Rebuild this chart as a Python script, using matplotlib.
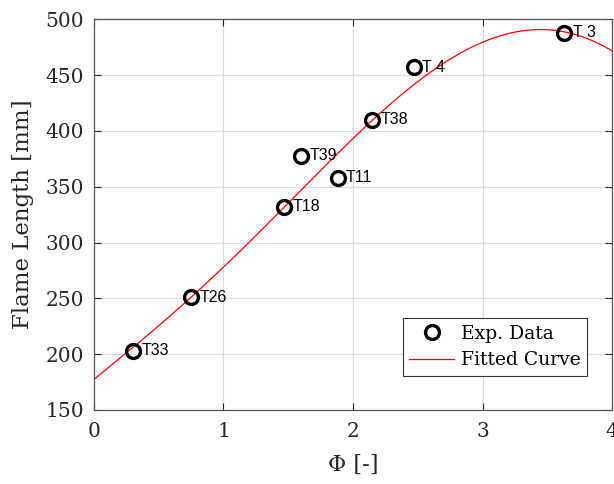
import numpy as np
import matplotlib
matplotlib.use("Agg")
import matplotlib.pyplot as plt

# Experimental data
phi = [0.30, 0.75, 1.47, 1.60, 1.88, 2.15, 2.47, 3.63]
flame_len = [203, 251, 332, 378, 358, 410, 457, 488]
point_labels = ["T33", "T26", "T18", "T39", "T11", "T38", "T 4", "T 3"]

# Fitted curve values
curve_phi = [0.0, 0.25, 0.5, 0.75, 1.0, 1.25, 1.5, 1.75, 2.0, 2.25,
             2.5, 2.75, 3.0, 3.25, 3.5, 3.75, 4.0]
curve_len = [178, 200, 225, 251, 279, 307, 336, 364, 392, 418,
             446, 466, 480, 488, 490, 485, 472]

xticks = [0, 1, 2, 3, 4]
yticks = [150, 200, 250, 300, 350, 400, 450, 500]

serif = ["DejaVu Serif"]
dark = "#262626"

fig = plt.figure(figsize=(6.14, 4.84), dpi=100)
ax = fig.add_axes([0.153, 0.153, 0.844, 0.807])

# smooth the read curve samples with a polynomial fit
coef = np.polyfit(curve_phi, curve_len, 5)
xs = np.linspace(curve_phi[0], curve_phi[-1], 400)
ax.plot(xs, np.polyval(coef, xs), color="red", lw=0.9, label="Fitted Curve", zorder=3)

ax.plot(phi, flame_len, linestyle="none", marker="o", markersize=10,
        markerfacecolor="none", markeredgecolor="black", markeredgewidth=2.4,
        label="Exp. Data", zorder=4)

for x, y, t in zip(phi, flame_len, point_labels):
    ax.annotate(t, (x, y), xytext=(6, 0), textcoords="offset points",
                ha="left", va="center", fontsize=11.5,
                family=["Liberation Sans", "DejaVu Sans"], color="black", zorder=5)

ax.set_xlim(0, 4)
ax.set_ylim(150, 500)
ax.set_xticks(xticks)
ax.set_yticks(yticks)
ax.grid(True, color="#dcdcdc", lw=0.8)
ax.set_axisbelow(True)
ax.tick_params(direction="in", top=True, right=True, length=5, width=0.8,
               colors=dark, labelsize=14.5)
ax.tick_params(axis="x", pad=9)
ax.tick_params(axis="y", pad=7)
for lab in ax.get_xticklabels() + ax.get_yticklabels():
    lab.set_family(serif)
for s in ax.spines.values():
    s.set_color("#555555")
    s.set_linewidth(0.9)

ax.set_xlabel("Φ [-]", fontsize=16, family=serif, color=dark, labelpad=9)
ax.set_ylabel("Flame Length [mm]", fontsize=16.5, family=serif, color=dark, labelpad=8)

h, l = ax.get_legend_handles_labels()
leg = ax.legend([h[1], h[0]], [l[1], l[0]], loc="lower right",
                bbox_to_anchor=(0.952, 0.087), borderaxespad=0,
                prop={"family": serif, "size": 13.5},
                fancybox=False, edgecolor="#333333", framealpha=1,
                handlelength=2.4, handletextpad=0.35, borderpad=0.35,
                labelspacing=0.45)
leg.get_frame().set_linewidth(0.8)

fig.savefig("out.png", dpi=100)
